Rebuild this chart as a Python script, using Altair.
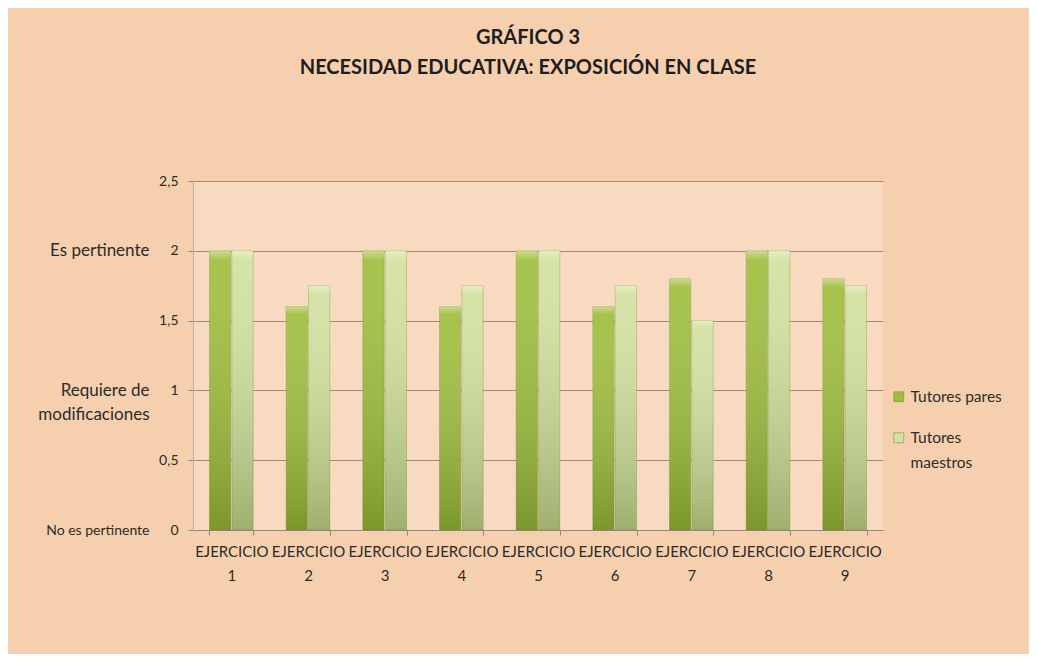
import altair as alt
import pandas as pd

ejercicios = ["EJERCICIO 1", "EJERCICIO 2", "EJERCICIO 3", "EJERCICIO 4", "EJERCICIO 5",
              "EJERCICIO 6", "EJERCICIO 7", "EJERCICIO 8", "EJERCICIO 9"]
tutores_pares = [2, 1.6, 2, 1.6, 2, 1.6, 1.8, 2, 1.8]
tutores_maestros = [2, 1.75, 2, 1.75, 2, 1.75, 1.5, 2, 1.75]
series = ["Tutores pares", "Tutores maestros"]
colores = ["#9fbe3e", "#d2e1a0"]
y_ticks = [0, 0.5, 1, 1.5, 2, 2.5]
niveles = [0, 1, 2]
nombres_niveles = ["No es pertinente", "Requiere de modificaciones", "Es pertinente"]

rows = []
for e, p, m in zip(ejercicios, tutores_pares, tutores_maestros):
    rows.append({"ejercicio": e, "serie": series[0], "valor": p})
    rows.append({"ejercicio": e, "serie": series[1], "valor": m})
df = pd.DataFrame(rows)

FONT = "Lato"
TXT = "#2b2b2b"

nivel_expr = (
    f"datum.value == {niveles[2]} ? '{nombres_niveles[2]}' : "
    f"datum.value == {niveles[1]} ? ['Requiere de', 'modificaciones'] : "
    f"datum.value == {niveles[0]} ? '{nombres_niveles[0]}' : ''"
)

x_enc = alt.X(
    "ejercicio:N", sort=ejercicios, title=None,
    scale=alt.Scale(paddingInner=0.43, paddingOuter=0.215),
    axis=alt.Axis(labelAngle=0, labelExpr="split(datum.label, ' ')", labelFont=FONT,
                  labelFontSize=15, labelColor=TXT, labelPadding=9, labelLineHeight=24,
                  tickBand="extent", tickSize=5, tickColor="#8c8c8c", domainColor="#8c8c8c",
                  labelLimit=200),
)
xoff = alt.XOffset("serie:N", sort=series, scale=alt.Scale(paddingInner=0.05))

bars = alt.Chart(df).mark_bar(strokeWidth=0.6, stroke="#7a8f3a", strokeOpacity=0.6).encode(
    x=x_enc,
    xOffset=xoff,
    y=alt.Y("valor:Q", title=None,
            scale=alt.Scale(domain=[0, 2.5], nice=False),
            axis=alt.Axis(values=y_ticks, grid=True, gridColor="#a58a73", gridWidth=1,
                          labelExpr="replace(format(datum.value, '.1~f'), '.', ',')",
                          labelFont=FONT, labelFontSize=14, labelColor=TXT,
                          tickSize=5, tickColor="#8c8c8c", domainColor="#b0b0b0",
                          labelPadding=10)),
    color=alt.Color("serie:N", sort=series, scale=alt.Scale(domain=series, range=colores),
                    legend=alt.Legend(title=None, orient="none", legendX=698, legendY=208,
                                      symbolType="square", symbolSize=100,
                                      symbolStrokeWidth=0.5, symbolStrokeColor="#6f8a2a",
                                      labelFont=FONT, labelFontSize=15.5, labelColor=TXT,
                                      rowPadding=24,
                                      labelExpr="datum.label == 'Tutores maestros' ? ['Tutores', 'maestros'] : datum.label")),
)

shade = alt.Chart(df).mark_bar(
    color=alt.LinearGradient(
        gradient="linear", x1=0, x2=0, y1=0, y2=1,
        stops=[alt.GradientStop(offset=0, color="rgba(255,255,230,0.45)"),
               alt.GradientStop(offset=0.035, color="rgba(255,255,255,0.08)"),
               alt.GradientStop(offset=1, color="rgba(40,60,0,0.30)")]),
).encode(
    x=alt.X("ejercicio:N", sort=ejercicios),
    xOffset=xoff,
    y=alt.Y("valor:Q", title=None,
            axis=alt.Axis(orient="left", values=niveles, labelExpr=nivel_expr, grid=False,
                          ticks=False, domain=False, offset=40, labelPadding=4,
                          labelFont=FONT,
                          labelFontSize={"condition": {"test": "datum.value == 0", "value": 14},
                                         "value": 17},
                          labelColor=TXT, labelLineHeight=24, labelLimit=300)),
)

chart = alt.layer(bars, shade).resolve_axis(y="independent").properties(
    width=690, height=349,
    title=alt.Title(["GRÁFICO 3", "NECESIDAD EDUCATIVA: EXPOSICIÓN  EN CLASE"],
                    font=FONT, fontSize=20, fontWeight="bold", color="#1e1e1e",
                    anchor="middle", offset=96, lineHeight=30, dx=-10),
    autosize=alt.AutoSizeParams(type="none"),
    padding={"left": 185, "top": 173, "right": 146, "bottom": 124},
    background="#f6d0ae",
).configure(
    view=alt.ViewConfig(fill="#fbeee6", fillOpacity=0.35, stroke=None),
    style={"guide-label": {"lineHeight": 25}},
)

chart.save("out.html", embed_options={"renderer": "svg", "actions": False})
